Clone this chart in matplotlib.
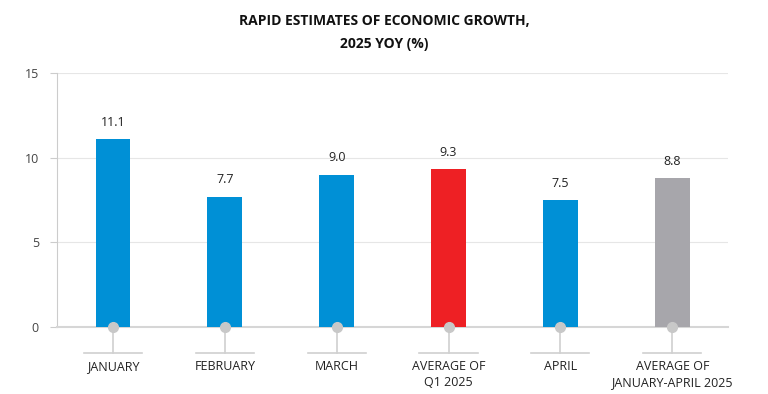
import matplotlib
matplotlib.use("Agg")
import matplotlib.pyplot as plt

categories = ["JANUARY", "FEBRUARY", "MARCH", "AVERAGE OF\nQ1 2025", "APRIL", "AVERAGE OF\nJANUARY-APRIL 2025"]
values = [11.1, 7.7, 9.0, 9.3, 7.5, 8.8]
colors = ["#0090d6", "#0090d6", "#0090d6", "#ee2024", "#0090d6", "#a7a6ab"]
yticks = [0, 5, 10, 15]

plt.rcParams['font.family'] = ['Open Sans', 'DejaVu Sans']

fig = plt.figure(figsize=(7.68, 3.94), dpi=100)
ax = fig.add_axes([0.0742, 0.170, 0.874, 0.645])

x = list(range(len(categories)))
ax.bar(x, values, width=0.31, color=colors, zorder=3)
for xi, v in zip(x, values):
    ax.text(xi, v + 0.6, f"{v:.1f}", ha="center", va="bottom", fontsize=9, color="#222222")

ax.set_xlim(-0.5, len(categories) - 0.5)
ax.set_ylim(0, 15)
ax.set_yticks(yticks)
ax.set_yticklabels([str(t) for t in yticks], fontsize=9, color="#444444")
ax.set_xticks([])
ax.grid(axis="y", color="#e6e6e6", linewidth=0.8, zorder=0)
for s in ["top", "right"]:
    ax.spines[s].set_visible(False)
ax.spines["left"].set_color("#cccccc")
ax.spines["bottom"].set_color("#d6d6d6")
ax.spines["bottom"].set_linewidth(1.5)
ax.tick_params(axis="y", length=5, color="#cccccc", pad=8)

for xi, lab in zip(x, categories):
    ax.plot([xi, xi], [0, -1.55], color="#d0d0d0", lw=1.2, clip_on=False, zorder=2)
    ax.plot([xi - 0.26, xi + 0.26], [-1.55, -1.55], color="#d0d0d0", lw=1.2, clip_on=False, zorder=2)
    ax.plot([xi], [0], marker="o", ms=7, color="#c8c8c8", clip_on=False, zorder=5)
    ax.text(xi, -1.95, lab, ha="center", va="top", fontsize=9, color="#222222", linespacing=1.3)

fig.text(0.5, 0.965, "RAPID ESTIMATES OF ECONOMIC GROWTH,\n2025 YOY (%)", ha="center", va="top",
         fontsize=10, fontweight="bold", color="#111111", linespacing=1.8)

fig.savefig("out.png", dpi=100)
